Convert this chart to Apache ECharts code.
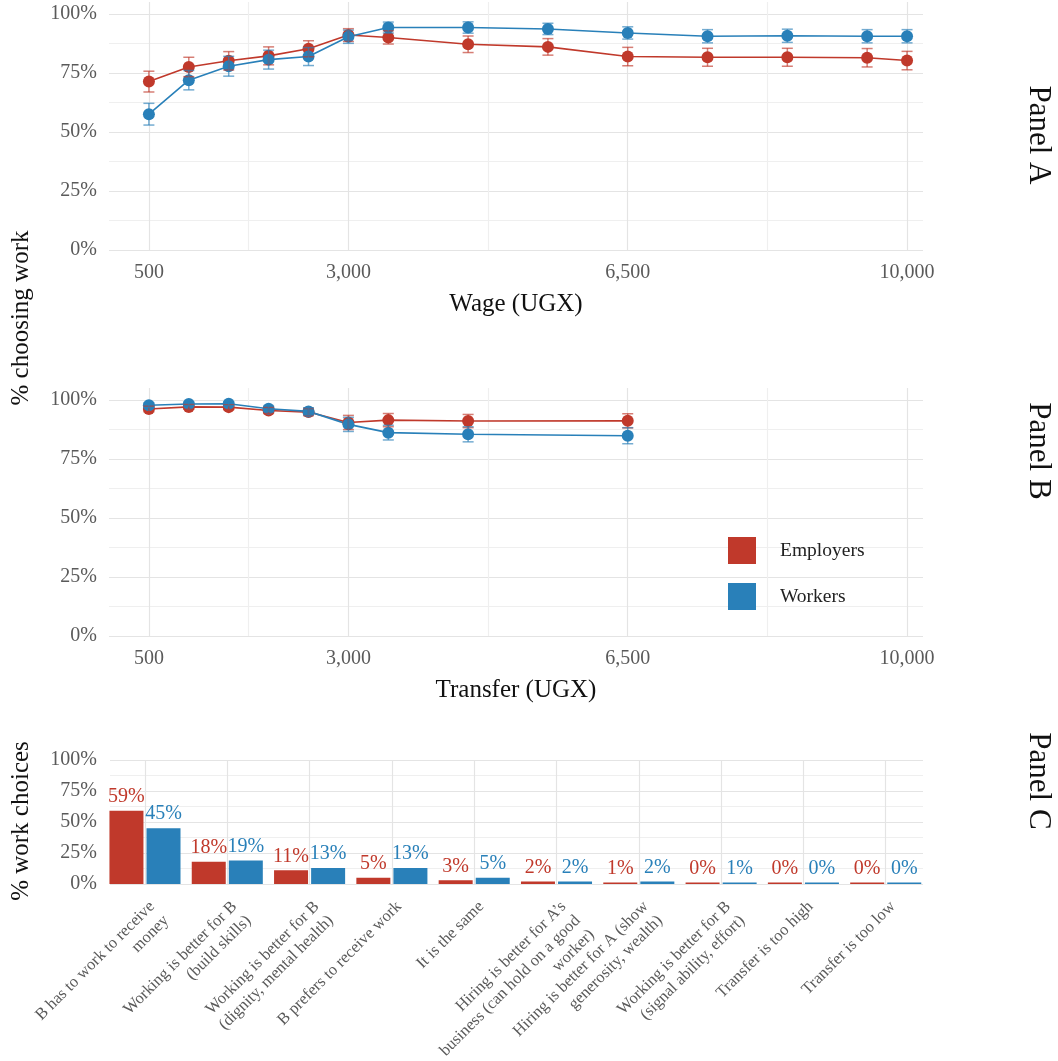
<!DOCTYPE html>
<html><head><meta charset="utf-8">
<script src="https://cdn.jsdelivr.net/npm/echarts@6/dist/echarts.min.js"></script>
<style>html,body{margin:0;padding:0;background:#fff}#c{width:1058px;height:1061px}</style>
</head><body><div id="c"></div>
<script>
// ---------- data ----------
const wageX = [500,1000,1500,2000,2500,3000,3500,4500,5500,6500,7500,8500,9500,10000];
const wageEmployers = [71.3,77.5,80.1,82.2,85.2,91.0,90.0,87.1,86.0,81.9,81.6,81.6,81.4,80.2];
const wageWorkers = [57.5,71.9,77.8,80.6,81.9,90.3,94.2,94.2,93.6,91.9,90.5,90.7,90.5,90.5];
const wageEmployersErr = [4.4,4.1,3.9,3.8,3.4,2.7,2.8,3.5,3.5,3.9,3.8,3.8,3.9,3.9];
const wageWorkersErr = [4.6,4.1,4.2,4.0,3.8,2.8,2.3,2.4,2.4,2.6,2.8,2.8,2.8,2.8];

const transferX = [500,1000,1500,2000,2500,3000,3500,4500,6500];
const transferEmployers = [96.1,97.0,96.9,95.5,94.8,90.4,91.4,91.0,91.1];
const transferWorkers = [97.7,98.2,98.3,96.2,95.1,89.6,86.1,85.4,84.8];
const transferEmployersErr = [1.2,1.0,1.0,1.3,1.5,3.0,2.8,2.8,3.0];
const transferWorkersErr = [1.0,0.8,0.8,1.2,1.5,3.0,3.1,3.2,3.4];

const reasons = [
  'B has to work to receive\nmoney',
  'Working is better for B\n(build skills)',
  'Working is better for B\n(dignity, mental health)',
  'B prefers to receive work',
  'It is the same',
  'Hiring is better for A\u2019s\nbusiness (can hold on a good\nworker)',
  'Hiring is better for A (show\ngenerosity, wealth)',
  'Working is better for B\n(signal ability, effort)',
  'Transfer is too high',
  'Transfer is too low'
];
const reasonEmployers = [59,18,11,5,3,2,1,0,0,0];
const reasonWorkers = [45,19,13,13,5,2,2,1,0,0];

const xLabelTicks = [500,3000,6500,10000];
const xGridTicks = [500,1750,3000,4750,6500,8250,10000];
const seriesNames = ['Employers','Workers'];

// ---------- style ----------
const RED = '#c0392b', BLUE = '#2980b9';
const FONT = "'Liberation Serif','Times New Roman',serif";
const MAJ = '#e4e4e4', MIN = '#efefef', NONE = 'rgba(0,0,0,0)';
const tickText = {fontFamily: FONT, fontSize: 20, color: '#5a5a5a'};

function pairs(xs, ys) { return xs.map((x, i) => [x, ys[i]]); }
function errData(xs, ys, es) { return xs.map((x, i) => [x, ys[i] - es[i], ys[i] + es[i]]); }

function errRender(color) {
  return function (params, api) {
    const x = api.value(0);
    const p1 = api.coord([x, api.value(1)]);
    const p2 = api.coord([x, api.value(2)]);
    const w = 5.5;
    const style = {stroke: color, lineWidth: 1.5};
    return {type: 'group', children: [
      {type: 'line', shape: {x1: p1[0], y1: p1[1], x2: p2[0], y2: p2[1]}, style},
      {type: 'line', shape: {x1: p1[0]-w, y1: p1[1], x2: p1[0]+w, y2: p1[1]}, style},
      {type: 'line', shape: {x1: p2[0]-w, y1: p2[1], x2: p2[0]+w, y2: p2[1]}, style}
    ]};
  };
}

function lineXAxis(idx, name) {
  return {
    type: 'value', gridIndex: idx, min: 0, max: 10200,
    name: name, nameLocation: 'middle', nameGap: 42,
    nameTextStyle: {fontFamily: FONT, fontSize: 25, color: '#111'},
    axisLine: {show: false}, axisTick: {show: false, customValues: xGridTicks},
    axisLabel: Object.assign({customValues: xLabelTicks, margin: 13,
      formatter: v => Number(v).toLocaleString('en-US')}, tickText),
    splitLine: {show: true, lineStyle: {color: [MAJ, MIN, MAJ, MIN, MAJ, MIN, MAJ], width: 1.2}}
  };
}
function lineYAxis(idx) {
  return {
    type: 'value', gridIndex: idx, min: 0, max: 105, interval: 12.5,
    axisLine: {show: false}, axisTick: {show: false},
    axisLabel: Object.assign({margin: 12, showMaxLabel: false,
      formatter: v => (v % 25 === 0 && v <= 100) ? v + '%' : ''}, tickText),
    splitLine: {show: true, lineStyle: {color: [MAJ, MIN, MAJ, MIN, MAJ, MIN, MAJ, MIN, MAJ, NONE], width: 1.2}}
  };
}

function lineSeries(name, xs, ys, color, idx) {
  return {type: 'line', name, xAxisIndex: idx, yAxisIndex: idx, data: pairs(xs, ys),
    symbol: 'circle', symbolSize: 12, showSymbol: true,
    lineStyle: {color, width: 1.6}, itemStyle: {color}, z: 3, animation: false};
}
function errSeries(name, xs, ys, es, color, idx) {
  return {type: 'custom', name, xAxisIndex: idx, yAxisIndex: idx,
    data: errData(xs, ys, es), encode: {x: 0, y: [1, 2]},
    renderItem: errRender(color === RED ? 'rgba(192,57,43,0.65)' : 'rgba(41,128,185,0.65)'),
    itemStyle: {color}, z: 4, animation: false};
}
function barSeries(name, vals, color) {
  return {type: 'bar', name, xAxisIndex: 2, yAxisIndex: 2,
    data: vals.map((v, i) => [i, v]), barWidth: 34, barGap: '9%', barMinHeight: 1.5,
    itemStyle: {color},
    label: {show: true, position: 'top', distance: 4, color, fontFamily: FONT, fontSize: 20,
      formatter: p => Math.round(p.value[1]) + '%'},
    animation: false};
}

const option = {
  backgroundColor: '#fff',
  animation: false,
  grid: [
    {left: 109, width: 814, top: 2, height: 248, outerBoundsMode: 'none', containLabel: false},
    {left: 109, width: 814, top: 388, height: 248, outerBoundsMode: 'none', containLabel: false},
    {left: 110, width: 813, top: 760, height: 124, outerBoundsMode: 'none', containLabel: false}
  ],
  xAxis: [
    lineXAxis(0, 'Wage (UGX)'),
    lineXAxis(1, 'Transfer (UGX)'),
    {type: 'value', gridIndex: 2, min: -0.425, max: 9.453,
      axisLine: {show: false}, axisTick: {show: false, customValues: reasons.map((r, i) => i)},
      axisLabel: {customValues: reasons.map((r, i) => i), rotate: 45, margin: 13,
        align: 'right', verticalAlign: 'top', interval: 0, hideOverlap: false,
        fontFamily: FONT, fontSize: 16.5, lineHeight: 20, color: '#5a5a5a',
        formatter: v => reasons[Math.round(v)] || ''},
      splitLine: {show: true, lineStyle: {color: MAJ, width: 1.2}}}
  ],
  yAxis: [
    lineYAxis(0), lineYAxis(1),
    {type: 'value', gridIndex: 2, min: 0, max: 100, interval: 12.5,
      axisLine: {show: false}, axisTick: {show: false},
      axisLabel: Object.assign({margin: 13, formatter: v => (v % 25 === 0) ? v + '%' : ''}, tickText),
      splitLine: {show: true, lineStyle: {color: [MAJ, MIN, MAJ, MIN, MAJ, MIN, MAJ, MIN, MAJ], width: 1.2}}}
  ],
  legend: {
    data: seriesNames, orient: 'vertical', left: 728, top: 537, padding: 0,
    icon: 'rect', itemWidth: 28, itemHeight: 27, itemGap: 19, selectedMode: false,
    textStyle: {fontFamily: FONT, fontSize: 19.5, color: '#222', padding: [0, 0, 0, 19]}
  },
  graphic: [
    {type: 'text', x: 21, y: 318, rotation: Math.PI / 2,
      style: {text: '% choosing work', font: '25px ' + FONT, fill: '#111', align: 'center', verticalAlign: 'middle'}},
    {type: 'text', x: 21, y: 821, rotation: Math.PI / 2,
      style: {text: '% work choices', font: '25px ' + FONT, fill: '#111', align: 'center', verticalAlign: 'middle'}},
    {type: 'text', x: 1038, y: 135, rotation: -Math.PI / 2,
      style: {text: 'Panel A', font: '31px ' + FONT, fill: '#111', align: 'center', verticalAlign: 'middle'}},
    {type: 'text', x: 1038, y: 451, rotation: -Math.PI / 2,
      style: {text: 'Panel B', font: '31px ' + FONT, fill: '#111', align: 'center', verticalAlign: 'middle'}},
    {type: 'text', x: 1038, y: 781, rotation: -Math.PI / 2,
      style: {text: 'Panel C', font: '31px ' + FONT, fill: '#111', align: 'center', verticalAlign: 'middle'}}
  ],
  series: [
    lineSeries('Employers', wageX, wageEmployers, RED, 0),
    lineSeries('Workers', wageX, wageWorkers, BLUE, 0),
    errSeries('Employers', wageX, wageEmployers, wageEmployersErr, RED, 0),
    errSeries('Workers', wageX, wageWorkers, wageWorkersErr, BLUE, 0),
    lineSeries('Employers', transferX, transferEmployers, RED, 1),
    lineSeries('Workers', transferX, transferWorkers, BLUE, 1),
    errSeries('Employers', transferX, transferEmployers, transferEmployersErr, RED, 1),
    errSeries('Workers', transferX, transferWorkers, transferWorkersErr, BLUE, 1),
    barSeries('Employers', reasonEmployers, RED),
    barSeries('Workers', reasonWorkers, BLUE)
  ]
};

const chart = echarts.init(document.getElementById('c'), null, {renderer: 'canvas'});
chart.setOption(option);
</script>
</body></html>
